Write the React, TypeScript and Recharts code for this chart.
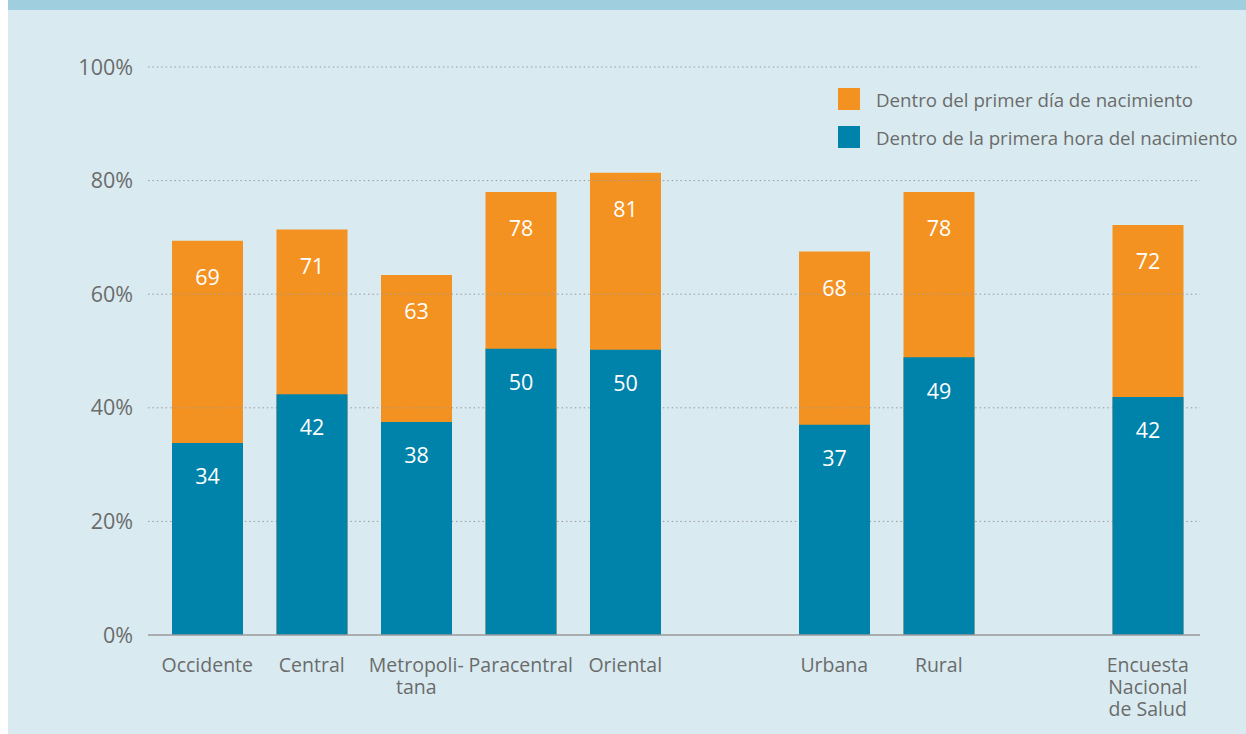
import React from 'react';
import { BarChart, Bar, XAxis, YAxis, CartesianGrid, LabelList, Legend } from 'recharts';

const categories = ['Occidente', 'Central', 'Metropoli-\ntana', 'Paracentral', 'Oriental', '', 'Urbana', 'Rural', '', 'Encuesta\nNacional\nde Salud'];
const primerDia = [69.4, 71.4, 63.4, 78.0, 81.4, null, 67.5, 78.0, null, 72.2];
const primeraHora = [33.8, 42.4, 37.5, 50.4, 50.2, null, 37.0, 48.9, null, 41.9];
const yTicks = [0, 20, 40, 60, 80, 100];
const seriesNames = ['Dentro del primer día de nacimiento', 'Dentro de la primera hora del nacimiento'];

const ORANGE = '#f39220';
const BLUE = '#0083aa';
const TEXT = '#6b6b6b';
const FONT = '"Open Sans", "Noto Sans", sans-serif';

const data = categories.map((c, i) => ({ key: 'c' + i, label: c, dia: primerDia[i], hora: primeraHora[i] }));

const XTick = (props: any) => {
  const { x, y, payload } = props;
  const item = data.find((d) => d.key === payload.value);
  const lines = item ? item.label.split('\n').filter((l) => l.length) : [];
  return (
    <g>
      {lines.map((l, i) => (
        <text key={i} x={x} y={y + 37 + i * 22} textAnchor="middle" fill={TEXT} fontSize={19.5} fontFamily={FONT}>{l}</text>
      ))}
    </g>
  );
};

const LegendContent = (props: any) => {
  const payload = props.payload || [];
  const order = seriesNames.map((n) => payload.find((p: any) => p.value === n)).filter(Boolean);
  return (
    <div style={{ fontFamily: FONT, fontSize: 18.7, color: TEXT }}>
      {order.map((p: any, i: number) => (
        <div key={i} style={{ display: 'flex', alignItems: 'center', height: 22, marginBottom: 16 }}>
          <div style={{ width: 22, height: 22, background: p.color, marginRight: 16, flexShrink: 0 }} />
          <span style={{ whiteSpace: 'nowrap' }}>{p.value}</span>
        </div>
      ))}
    </div>
  );
};

export default function App() {
  return (
    <div style={{ position: 'absolute', left: 8, top: 0, width: 1238, height: 734, background: '#d9ebf1', overflow: 'hidden' }}>
      <div style={{ position: 'absolute', left: 0, top: 0, width: 1238, height: 10, background: '#9fcfdf' }} />
      <div style={{ position: 'absolute', left: 0, top: 0 }}>
        <BarChart
          width={1238}
          height={734}
          data={data}
          margin={{ top: 67, right: 46, bottom: 69, left: 60 }}
          barGap={-71}
          barSize={71}
        >
          <Bar dataKey="dia" name={seriesNames[0]} fill={ORANGE} isAnimationActive={false} zIndex={100}>
            <LabelList dataKey="dia" position="insideTop" offset={29} fill="#ffffff" fontSize={21.5} fontFamily={FONT}
              formatter={(v: any) => (v == null ? '' : Math.round(v))} />
          </Bar>
          <CartesianGrid vertical={false} stroke="#9a9a9a" strokeDasharray="1.5 2.9" horizontalValues={[20, 40, 60, 80, 100]} zIndex={200} />
          <Bar dataKey="hora" name={seriesNames[1]} fill={BLUE} isAnimationActive={false} zIndex={300}>
            <LabelList dataKey="hora" position="insideTop" offset={26} fill="#ffffff" fontSize={21.5} fontFamily={FONT}
              formatter={(v: any) => (v == null ? '' : Math.round(v))} />
          </Bar>
          <XAxis
            dataKey="key"
            tick={<XTick />}
            tickLine={false}
            tickSize={0}
            tickMargin={0}
            axisLine={{ stroke: '#9a9a9a', strokeWidth: 1.5 }}
            padding={{ left: 7, right: 0 }}
            interval={0}
          />
          <YAxis
            width={80}
            domain={[0, 100]}
            ticks={yTicks}
            tickFormatter={(v: number) => v + '%'}
            axisLine={false}
            tickLine={false}
            tickSize={0}
            tickMargin={15}
            tick={{ fill: TEXT, fontSize: 21.5, fontFamily: FONT }}
          />
          <Legend
            layout="vertical"
            align="center"
            verticalAlign="middle"
            content={<LegendContent />}
            wrapperStyle={{ top: 88, left: 830, width: 400, height: 80 }}
          />
        </BarChart>
      </div>
    </div>
  );
}
